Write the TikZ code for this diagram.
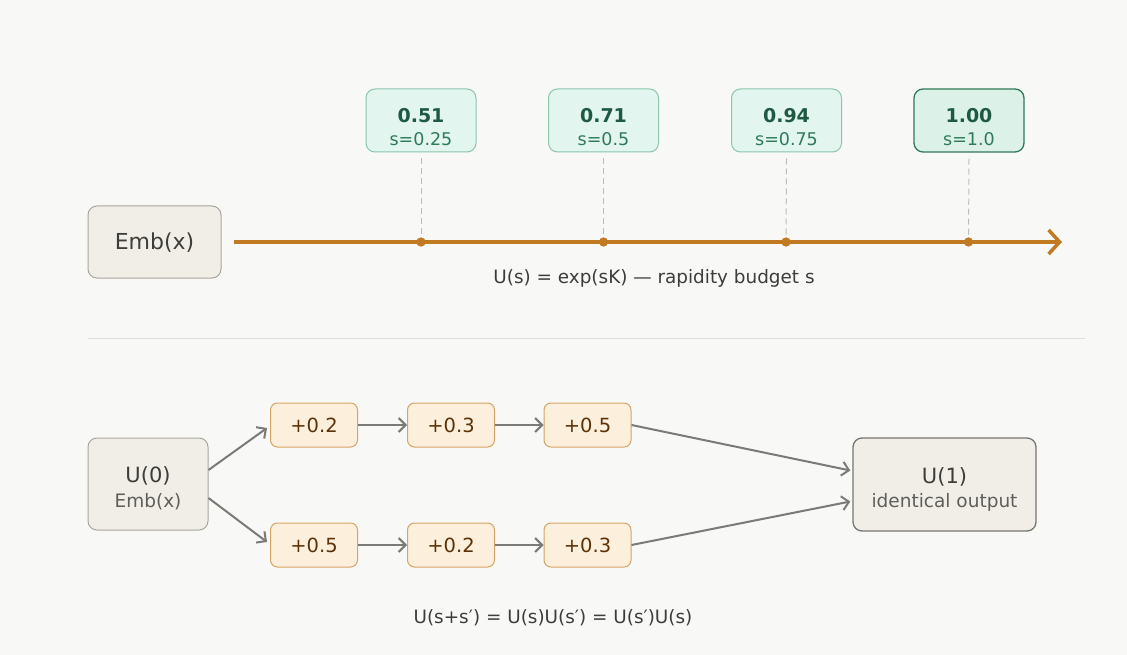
\documentclass[tikz,border=0pt]{standalone}
\usepackage{fontspec}
\setmainfont{DejaVu Sans}
\usetikzlibrary{arrows.meta}

\definecolor{bgcol}{HTML}{F8F8F6}
\definecolor{grayfill}{HTML}{F1EEE8}
\definecolor{grayline}{HTML}{A8A69F}
\definecolor{graydark}{HTML}{76756F}
\definecolor{inktext}{HTML}{3D3D3A}
\definecolor{subtext}{HTML}{5E5E5A}
\definecolor{greenfill}{HTML}{E2F5EE}
\definecolor{greenfillb}{HTML}{DCF2E8}
\definecolor{greenline}{HTML}{8CC5AC}
\definecolor{greendark}{HTML}{2F7A5A}
\definecolor{greentext}{HTML}{1E5A43}
\definecolor{axiscol}{HTML}{C27A22}
\definecolor{guidecol}{HTML}{BDBDB8}
\definecolor{sepcol}{HTML}{DEDDDA}
\definecolor{orangefill}{HTML}{FCEFDC}
\definecolor{orangeline}{HTML}{D6A468}
\definecolor{orangetext}{HTML}{5C3309}
\definecolor{arrowcol}{HTML}{7A7A76}

\tikzset{
  graybox/.style={draw=grayline, fill=grayfill, line width=1pt, rounded corners=9pt,
    inner sep=0pt},
  valbox/.style={draw=greenline, fill=greenfill, line width=1pt, rounded corners=9pt,
    minimum width=110pt, minimum height=63pt, inner sep=0pt},
  valboxlast/.style={valbox, draw=greendark, fill=greenfillb, line width=1.3pt},
  stepbox/.style={draw=orangeline, fill=orangefill, line width=1pt, rounded corners=7pt,
    minimum width=87pt, minimum height=44pt, inner sep=0pt},
  lbl/.style={anchor=base, inner sep=0pt},
  bigtxt/.style={lbl, text=inktext, font=\fontsize{21}{24}\selectfont},
  smalltxt/.style={lbl, text=subtext, font=\fontsize{18.5}{20}\selectfont},
  valtxt/.style={lbl, text=greentext, font=\fontsize{19}{22}\selectfont\bfseries},
  stxt/.style={lbl, text=greendark, font=\fontsize{17.5}{20}\selectfont},
  steptxt/.style={lbl, text=orangetext, font=\fontsize{19.5}{22}\selectfont},
  tick/.style={circle, fill=axiscol, inner sep=0pt, minimum size=9pt},
  guide/.style={draw=guidecol, line width=1pt, dash pattern=on 6pt off 4pt},
  axisline/.style={draw=axiscol, line width=3.5pt,
    -{Straight Barb[length=11pt, width=24pt, line width=3.5pt]}},
  flow/.style={draw=arrowcol, line width=2pt,
    -{Straight Barb[length=7pt, width=14pt, line width=2pt]}},
  caption/.style={lbl, text=inktext, font=\fontsize{18.4}{22}\selectfont}
}

\begin{document}
\begin{tikzpicture}[x=1pt, y=-1pt]
  \useasboundingbox (0,0) rectangle (1127,655);
  \fill[bgcol] (0,0) rectangle (1127,655);

  % ---- rapidity axis ----
  \node[graybox, minimum width=133pt, minimum height=72pt] (emb) at (154.5,242) {};
  \node[bigtxt, font=\fontsize{22}{24}\selectfont] (embt) at (154.5,250) {Emb(x)};

  \node[tick] (t1) at (421,242) {};
  \node[tick] (t2) at (603.5,242) {};
  \node[tick] (t3) at (786,242) {};
  \node[tick] (t4) at (968.5,242) {};
  \coordinate (axend) at (1062,242);

  \node[valbox] (v1) at (421,120.5) {};
  \node[valbox] (v2) at (603.5,120.5) {};
  \node[valbox] (v3) at (786.5,120.5) {};
  \node[valboxlast] (v4) at (969,120.5) {};
  \node[valtxt] (v1a) at (421,122.5) {0.51};
  \node[stxt]   (v1b) at (421,146) {s=0.25};
  \node[valtxt] (v2a) at (603.5,122.5) {0.71};
  \node[stxt]   (v2b) at (603.5,146) {s=0.5};
  \node[valtxt] (v3a) at (786.5,122.5) {0.94};
  \node[stxt]   (v3b) at (786.5,146) {s=0.75};
  \node[valtxt] (v4a) at (969,122.5) {1.00};
  \node[stxt]   (v4b) at (969,146) {s=1.0};

  \foreach \i in {1,...,4}
    \draw[guide] ([yshift=-6pt]v\i.south) -- (t\i.center);

  \draw[axisline, shorten <=12pt] (emb.east) -- (axend);
  \foreach \i in {1,...,4}
    \node[tick] at (t\i) {};

  \node[caption] (cap1) at (654,283) {U(s) = exp(sK) — rapidity budget s};

  % ---- separator ----
  \coordinate (sepl) at (88,338.5);
  \coordinate (sepr) at (1085,338.5);
  \draw[sepcol, line width=1.2pt] (sepl) -- (sepr);

  % ---- composition paths ----
  \node[graybox, minimum width=120pt, minimum height=92pt] (u0) at (148,484) {};
  \node[bigtxt]   (u0a) at (148,482) {U(0)};
  \node[smalltxt] (u0b) at (148,507) {Emb(x)};
  \node[graybox, draw=graydark, line width=1.3pt, minimum width=183pt,
        minimum height=93pt] (u1) at (944.5,484.5) {};
  \node[bigtxt]   (u1a) at (944.5,483) {U(1)};
  \node[smalltxt] (u1b) at (944.5,507) {identical output};

  \node[stepbox] (a1) at (314,425) {};
  \node[stepbox] (a2) at (451,425) {};
  \node[stepbox] (a3) at (587.5,425) {};
  \node[stepbox] (b1) at (314,545) {};
  \node[stepbox] (b2) at (451,545) {};
  \node[stepbox] (b3) at (587.5,545) {};
  \node[steptxt] (a1t) at (314,432) {+0.2};
  \node[steptxt] (a2t) at (451,432) {+0.3};
  \node[steptxt] (a3t) at (587.5,432) {+0.5};
  \node[steptxt] (b1t) at (314,552) {+0.5};
  \node[steptxt] (b2t) at (451,552) {+0.2};
  \node[steptxt] (b3t) at (587.5,552) {+0.3};

  \draw[flow] ([yshift=14pt]u0.east) -- ([xshift=-3pt,yshift=-3pt]a1.west);
  \draw[flow] ([yshift=-14pt]u0.east) -- ([xshift=-3pt,yshift=3pt]b1.west);
  \draw[flow] (a1) -- (a2);
  \draw[flow] (a2) -- (a3);
  \draw[flow] (b1) -- (b2);
  \draw[flow] (b2) -- (b3);
  \draw[flow] (a3.east) -- ([xshift=-2pt,yshift=14pt]u1.west);
  \draw[flow] (b3.east) -- ([xshift=-2pt,yshift=-17pt]u1.west);

  \node[caption] (cap2) at (553,623) {U(s+s′) = U(s)U(s′) = U(s′)U(s)};
\end{tikzpicture}
\end{document}
